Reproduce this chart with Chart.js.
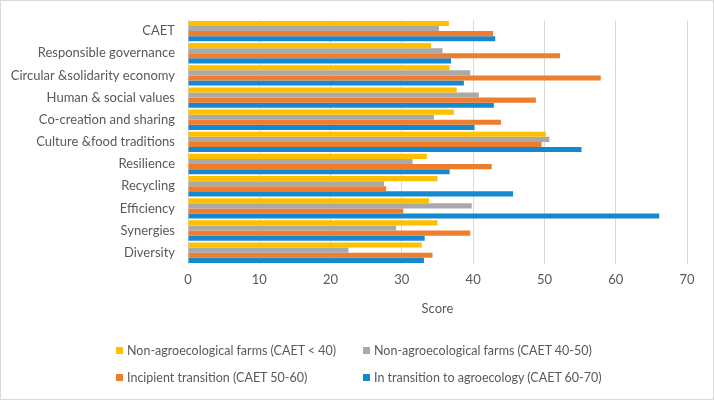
<!DOCTYPE html>
<html>
<head>
<meta charset="utf-8">
<script src="https://cdn.jsdelivr.net/npm/chart.js@4/dist/chart.umd.min.js"></script>
<style>
  body { margin: 0; background: #fff; }
  #wrap { position: relative; width: 712px; height: 398px; border: 1px solid #d9d9d9; font-family: Lato, "Open Sans", sans-serif; }
  #legend { position: absolute; left: 115px; top: 342px; width: 580px; font-size: 12.5px; color: #595959; }
  .item { position: absolute; white-space: nowrap; }
  .item span { display: inline-block; width: 7px; height: 7px; margin-right: 4px; vertical-align: 1px; }
</style>
</head>
<body>
<div id="wrap">
  <canvas id="chart" width="712" height="398"></canvas>
  <div id="legend"></div>
</div>
<script>
document.addEventListener('DOMContentLoaded', function() {
    // categories, top to bottom as shown
    const categories = ['CAET', 'Responsible governance', 'Circular &solidarity economy', 'Human & social values',
        'Co-creation and sharing', 'Culture &food traditions', 'Resilience', 'Recycling', 'Efficiency',
        'Synergies', 'Diversity'];

    const seriesNames = ['Non-agroecological farms (CAET < 40)', 'Non-agroecological farms (CAET 40-50)',
        'Incipient transition (CAET 50-60)', 'In transition to agroecology (CAET 60-70)'];

    const below40 = [36.6, 34.1, 36.7, 37.7, 37.3, 50.2, 33.5, 35.0, 33.8, 35.0, 32.8];
    const from40to50 = [35.2, 35.7, 39.6, 40.8, 34.5, 50.7, 31.5, 27.5, 39.8, 29.2, 22.5];
    const from50to60 = [42.8, 52.2, 57.9, 48.8, 43.9, 49.6, 42.6, 27.8, 30.2, 39.6, 34.3];
    const from60to70 = [43.1, 36.9, 38.7, 42.9, 40.2, 55.2, 36.7, 45.6, 66.1, 33.2, 33.1];

    const colors = ['#FFC000', '#A9A9A9', '#EF7D2E', '#1589D0'];
    const values = [below40, from40to50, from50to60, from60to70];

    const ctx = document.getElementById('chart');
    new Chart(ctx, {
        type: 'bar',
        data: {
            labels: categories,
            datasets: values.map((v, i) => ({
                label: seriesNames[i],
                data: v,
                backgroundColor: colors[i],
                barPercentage: 1,
                categoryPercentage: 0.92
            }))
        },
        options: {
            indexAxis: 'y',
            responsive: false,
            animation: false,
            layout: { padding: { left: 0, right: 26, top: 19, bottom: 78 } },
            plugins: { legend: { display: false }, tooltip: { enabled: false } },
            scales: {
                x: {
                    min: 0, max: 70,
                    ticks: { stepSize: 10, color: '#595959', font: { family: 'Lato', size: 13 }, padding: 8 },
                    grid: { color: '#d9d9d9', drawTicks: false },
                    border: { display: false },
                    title: { display: true, text: 'Score', color: '#595959', font: { family: 'Lato', size: 13 }, padding: { top: 6 } }
                },
                y: {
                    ticks: { color: '#595959', font: { family: 'Lato', size: 13 }, padding: 5 },
                    grid: { display: false },
                    border: { color: '#d9d9d9' },
                    afterFit: function(scale) { scale.width = 187; }
                }
            }
        }
    });

    // legend laid out in two columns like the original
    const legend = document.getElementById('legend');
    const pos = [[0, 0], [247, 0], [0, 27], [247, 27]];
    seriesNames.forEach((name, i) => {
        const d = document.createElement('div');
        d.className = 'item';
        d.style.left = pos[i][0] + 'px';
        d.style.top = pos[i][1] + 'px';
        d.innerHTML = '<span style="background:' + colors[i] + '"></span>' + name.replace('<', '&lt;');
        legend.appendChild(d);
    });
});
</script>
</body>
</html>
